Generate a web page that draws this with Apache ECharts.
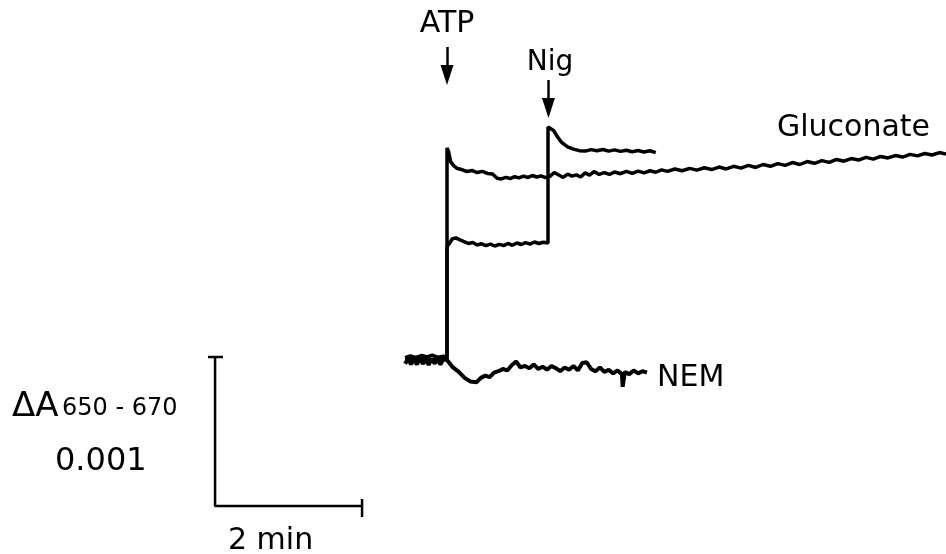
<!DOCTYPE html>
<html>
<head>
	<title>ATP / Nig traces</title>
	<meta charset="utf-8">
	<script src="https://cdn.jsdelivr.net/npm/echarts@6/dist/echarts.min.js"></script>
	<style type="text/css">
		body{ margin:0; background:#fff; }
		#main{ width:946px; height:554px; }
	</style>
</head>
<body>
	<div id="main"></div>
	<script type="text/javascript">
		// time in min (0 = ATP addition), absorbance change in units of 0.001 (0 = baseline)
		var glucTime = [-0.57,-0.50,-0.42,-0.35,-0.27,-0.20,-0.12,-0.05,0,0,
			0.02,0.05,0.09,0.14,0.20,0.27,0.34,0.41,0.48,0.55,0.62,0.68,0.74,0.80,0.86,0.92,0.98,
			1.04,1.10,1.16,1.22,1.28,1.34,1.40,1.46,1.52,1.58,1.64,1.70,1.76,1.82,1.88,1.94,2.00,
			2.07,2.14,2.21,2.28,2.36,2.44,2.52,2.60,2.68,2.76,2.84,2.92,3.00,3.10,3.20,3.30,3.40,
			3.50,3.60,3.70,3.80,3.90,4.00,4.10,4.20,4.30,4.40,4.50,4.60,4.70,4.80,4.90,5.00,5.10,
			5.20,5.30,5.40,5.50,5.60,5.70,5.80,5.90,6.00,6.10,6.20,6.30,6.40,6.50,6.60,6.70,6.79];
		var glucAbs = [-0.005,0.008,-0.003,0.010,0.000,0.012,-0.002,0.006,0,1.403,
			1.38,1.31,1.285,1.265,1.258,1.245,1.252,1.238,1.246,1.232,1.228,1.200,1.195,1.206,1.198,1.210,1.202,
			1.214,1.205,1.218,1.208,1.215,1.204,1.212,1.238,1.222,1.205,1.228,1.214,1.222,1.208,1.236,1.220,1.244,
			1.226,1.238,1.225,1.242,1.230,1.246,1.232,1.248,1.236,1.250,1.240,1.256,1.246,1.262,1.250,1.266,1.254,
			1.270,1.258,1.275,1.262,1.280,1.268,1.286,1.272,1.292,1.280,1.298,1.286,1.305,1.292,1.312,1.300,1.318,
			1.306,1.326,1.314,1.332,1.322,1.340,1.328,1.346,1.336,1.352,1.342,1.360,1.350,1.366,1.356,1.372,1.362];

		var nigTime = [-0.57,-0.48,-0.40,-0.31,-0.22,-0.13,-0.05,0,0,
			0.03,0.07,0.12,0.17,0.23,0.29,0.35,0.41,0.47,0.53,0.59,0.65,0.71,0.77,0.83,0.89,0.95,
			1.01,1.07,1.13,1.19,1.25,1.31,1.374,1.374,
			1.40,1.45,1.50,1.56,1.64,1.72,1.80,1.88,1.96,2.04,2.12,2.20,2.28,2.36,2.44,2.52,2.60,
			2.68,2.76,2.84];
		var nigAbs = [-0.018,-0.008,-0.020,-0.010,-0.022,-0.012,-0.018,-0.015,0.74,
			0.76,0.792,0.800,0.788,0.775,0.762,0.768,0.752,0.760,0.748,0.758,0.745,0.756,0.748,0.762,0.750,0.765,
			0.755,0.768,0.758,0.772,0.762,0.770,0.765,1.544,
			1.540,1.520,1.480,1.440,1.410,1.395,1.385,1.382,1.392,1.384,1.393,1.382,1.390,1.380,1.388,1.378,1.386,
			1.376,1.384,1.372];

		var nemTime = [-0.57,-0.53,-0.49,-0.45,-0.41,-0.37,-0.33,-0.29,-0.25,-0.21,-0.17,-0.13,-0.09,-0.05,0,
			0.08,0.16,0.24,0.32,0.40,0.46,0.52,0.58,0.64,0.70,0.76,0.82,0.88,0.94,1.00,1.06,1.12,
			1.18,1.24,1.30,1.36,1.42,1.48,1.54,1.60,1.66,1.72,1.78,1.84,1.90,1.96,2.02,2.08,2.14,
			2.20,2.26,2.32,2.38,2.39,2.42,2.48,2.54,2.60,2.66,2.72];
		var nemAbs = [-0.045,-0.012,-0.048,-0.015,-0.050,-0.010,-0.046,-0.018,-0.052,-0.012,-0.044,-0.016,-0.050,-0.014,-0.020,
			-0.07,-0.10,-0.14,-0.165,-0.17,-0.14,-0.125,-0.135,-0.105,-0.095,-0.08,-0.09,-0.055,-0.03,-0.07,-0.06,-0.075,
			-0.05,-0.08,-0.065,-0.085,-0.06,-0.075,-0.095,-0.07,-0.085,-0.06,-0.09,-0.04,-0.035,-0.08,-0.095,-0.07,-0.10,
			-0.085,-0.11,-0.09,-0.115,-0.20,-0.10,-0.115,-0.09,-0.11,-0.095,-0.105];

		// scale bars: 2 min, 0.001 absorbance
		var barStart = -3.156;
		var barMin = 2;
		var barAbs = 1;

		// additions (arrow positions, min)
		var addTimes = [0, 1.38];
		var addFrom = [2.081, 1.859];
		var addTo = [1.893, 1.671];

		zip = function(t, a){
			var out = [];
			for(var i = 0; i < t.length; i++){
				out.push([t[i], a[i]]);
			}
			return out;
		}

		trace = function(name, data, w){
			return {
				name:name,
				type:'line',
				data:data,
				symbol:'none',
				silent:true,
				lineStyle:{ color:'#000', width:w },
				z:3
			};
		}

		var myChart = echarts.init(document.getElementById('main'));
		var black = '#000';

		var arrows = [];
		for(var i = 0; i < addTimes.length; i++){
			arrows.push([{coord:[addTimes[i], addFrom[i]]}, {coord:[addTimes[i], addTo[i]]}]);
		}

		var option = {
			animation:false,
			backgroundColor:'#fff',
			grid:{ left:0, right:0, top:0, bottom:0 },
			xAxis:{ type:'value', min:-6.082, max:6.789, show:false },
			yAxis:{ type:'value', min:-1.322, max:2.396, show:false },
			series:[
				trace('Gluconate', zip(glucTime, glucAbs), 3.5),
				trace('Nig', zip(nigTime, nigAbs), 3.5),
				trace('NEM', zip(nemTime, nemAbs), 4),
				trace('scaleV', [[barStart, 0], [barStart, -barAbs], [barStart + barMin, -barAbs]], 2.5),
				trace('capTop', [[barStart - 0.096, 0], [barStart + 0.108, 0]], 2.5),
				trace('capRight', [[barStart + barMin, -barAbs + 0.047], [barStart + barMin, -barAbs - 0.074]], 2.5),
				{
					type:'line',
					data:[],
					markLine:{
						silent:true,
						symbol:['none', 'triangle'],
						symbolSize:[13, 20],
						label:{ show:false },
						lineStyle:{ color:black, width:2.5, type:'solid' },
						data:arrows
					}
				}
			]
		};
		myChart.setOption(option);

		// text is placed with graphic elements (pixel positions)
		myChart.setOption({
			graphic:[
				{ type:'text', x:447, y:24, style:{ text:'ATP', fill:black, font:'30px "DejaVu Sans"', textAlign:'center', textVerticalAlign:'middle' } },
				{ type:'text', x:550, y:63, style:{ text:'Nig', fill:black, font:'28px "DejaVu Sans"', textAlign:'center', textVerticalAlign:'middle' } },
				{ type:'text', x:777, y:128, style:{ text:'Gluconate', fill:black, font:'30px "DejaVu Sans"', textAlign:'left', textVerticalAlign:'middle' } },
				{ type:'text', x:657, y:378, style:{ text:'NEM', fill:black, font:'30px "DejaVu Sans"', textAlign:'left', textVerticalAlign:'middle' } },
				{ type:'text', x:12, y:407, style:{ text:'\u0394A', fill:black, font:'34px "DejaVu Sans"', textAlign:'left', textVerticalAlign:'middle' } },
				{ type:'text', x:62, y:409, style:{ text:'650 - 670', fill:black, font:'24px "DejaVu Sans"', textAlign:'left', textVerticalAlign:'middle' } },
				{ type:'text', x:55, y:462, style:{ text:'0.001', fill:black, font:'32px "DejaVu Sans"', textAlign:'left', textVerticalAlign:'middle' } },
				{ type:'text', x:228, y:541, style:{ text:'2 min', fill:black, font:'30px "DejaVu Sans"', textAlign:'left', textVerticalAlign:'middle' } }
			]
		});
	</script>
</body>
</html>
